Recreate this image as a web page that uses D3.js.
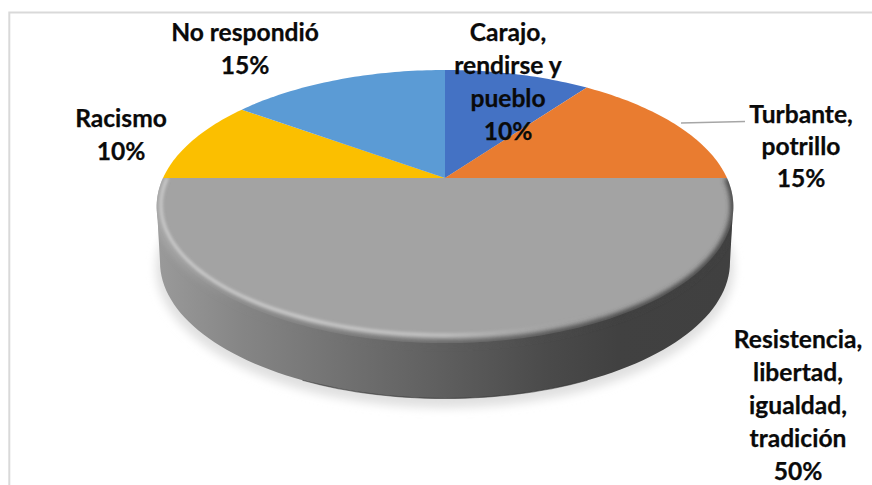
<!DOCTYPE html>
<html><head><meta charset="utf-8">
<script src="https://cdnjs.cloudflare.com/ajax/libs/d3/7.8.5/d3.min.js"></script>
<style>html,body{margin:0;padding:0;background:#fff}svg{display:block}</style>
</head><body><svg id="c" width="872" height="485"></svg>
<script>
const categories = ["Carajo, rendirse y pueblo","Turbante, potrillo","Resistencia, libertad, igualdad, tradición","Racismo","No respondió"];
const values = [10,15,50,10,15];
const labelLines = [["Carajo,","rendirse y","pueblo"],["Turbante,","potrillo"],["Resistencia,","libertad,","igualdad,","tradición"],["Racismo"],["No respondió"]];
const colors = ["#4472c4","#e97c30","#a3a3a3","#fbbf00","#5b9bd5"];
const labelPos = [[508,33,33],[801,115,32],[798,340,33],[121,119,33],[245,33,33]];

const svg = d3.select("#c");
const defs = svg.append("defs");
const F = {cx:445, cy:178, B:282, A:130.6, p:0.209};
function proj(a, r=1){ // perspective projection of a pie disc
  const u=r*Math.sin(a), v=r*Math.cos(a), d=1+F.p*v;
  return [F.cx+F.B*u/d, F.cy-F.A*v/d];
}
const line=d3.line();
function blur(id,s){defs.append("filter").attr("id",id).attr("x","-20%").attr("y","-20%").attr("width","140%").attr("height","140%")
  .append("feGaussianBlur").attr("stdDeviation",s);}
blur("b5",5);blur("b2",2.4);blur("b1",1.4);blur("b05",.6);
function grad(id,stops){const g=defs.append("linearGradient").attr("id",id).attr("gradientUnits","userSpaceOnUse")
  .attr("x1",157).attr("x2",733).attr("y1",0).attr("y2",0);
  stops.forEach(s=>g.append("stop").attr("offset",s[0]).attr("stop-color",s[1]).attr("stop-opacity",s[2]===undefined?1:s[2]));}
grad("side",[[0,"#9a9a9a"],[.15,"#858585"],[.35,"#6e6e6e"],[.5,"#5e5e5e"],[.68,"#4a4a4a"],[.8,"#414141"],[1,"#404040"]]);
grad("band",[[0,"#a8a8a8"],[.04,"#a0a0a0"],[.15,"#858585"],[.35,"#6e6e6e"],[.5,"#5e5e5e"],[.68,"#4a4a4a"],[.8,"#414141"],[1,"#404040"]]);
grad("hi",[[0,"#cccccc",.95],[.25,"#d0d0d0",.9],[.5,"#cccccc",.8],[.66,"#b0b0b0",.3],[.75,"#a5a5a5",0],[1,"#a5a5a5",0]]);

// frame
svg.append("path").attr("d","M9.3,485V12.5H872").attr("fill","none").attr("stroke","#d9d9d9").attr("stroke-width",2);

// shadow
const bottomE=[445,262,285,136.5];
svg.append("ellipse").attr("cx",445).attr("cy",268).attr("rx",289).attr("ry",140).attr("fill","#e0e0e0").attr("filter","url(#b5)");

// side wall
const wallPts=d3.range(0,181,2).map(d=>{const t=d*Math.PI/180;return [bottomE[0]+bottomE[2]*Math.cos(t),bottomE[1]+bottomE[3]*Math.sin(t)];});
const wall=[[733,208],...wallPts,[157,208]];
svg.append("path").attr("d",line(wall)+"Z").attr("fill","url(#side)");
svg.append("path").attr("d",line(wallPts.slice(30,61))).attr("fill","none").attr("stroke","#333").attr("stroke-width",1.2).attr("opacity",.55).attr("filter","url(#b05)");

// slices
const pie=d3.pie().sort(null).value(d=>d);
const arcs=pie(values);
const faceG=svg.append("g");
const slicePts=arcs.map((s,i)=>{
  const n=Math.max(2,Math.ceil((s.endAngle-s.startAngle)/0.02));
  const pts=d3.range(n+1).map(k=>proj(s.startAngle+(s.endAngle-s.startAngle)*k/n));
  faceG.append("path").attr("d",line([[F.cx,F.cy],...pts])+"Z").attr("fill",colors[i]);
  return pts;
});

// bevel on the grey slice, kept within disc + wall
const g=arcs[2];
const arcAngles=d3.range(0,101).map(k=>g.startAngle+(g.endAngle-g.startAngle)*k/100);
const cp=defs.append("clipPath").attr("id","low");
cp.append("path").attr("d",line([[F.cx,F.cy],...slicePts[2]])+"Z");
cp.append("path").attr("d",line(wall)+"Z");
const bev=svg.append("g").attr("clip-path","url(#low)");
bev.append("path").attr("d",line(arcAngles.map(a=>proj(a,1.0)))).attr("fill","none").attr("stroke","url(#band)").attr("stroke-width",6).attr("filter","url(#b2)");
bev.append("path").attr("d",line(arcAngles.map(a=>{const p=proj(a);return [F.cx+(p[0]-F.cx)*.985,p[1]-8*(p[1]-F.cy)/165];})))
  .attr("fill","none").attr("stroke","url(#hi)").attr("stroke-width",3.2).attr("filter","url(#b1)");

// leader line
svg.append("path").attr("d",d3.line()([[681,123],[745,121.5]])).attr("fill","none").attr("stroke","#a6a6a6").attr("stroke-width",1.5);

// labels
const total=d3.sum(values);
labelLines.forEach((lines,i)=>{
  const all=[...lines,d3.format(".0%")(values[i]/total)];
  const t=svg.append("text").attr("text-anchor","middle").attr("font-family","Lato, 'Open Sans', sans-serif")
   .attr("font-weight",700).attr("font-size",24.6).attr("fill","#0a0a0a").attr("stroke","#0a0a0a").attr("stroke-width",.25);
  all.forEach((l,k)=>t.append("tspan").attr("x",labelPos[i][0]).attr("y",labelPos[i][1]+8+k*labelPos[i][2]).text(l));
});
</script></body></html>
